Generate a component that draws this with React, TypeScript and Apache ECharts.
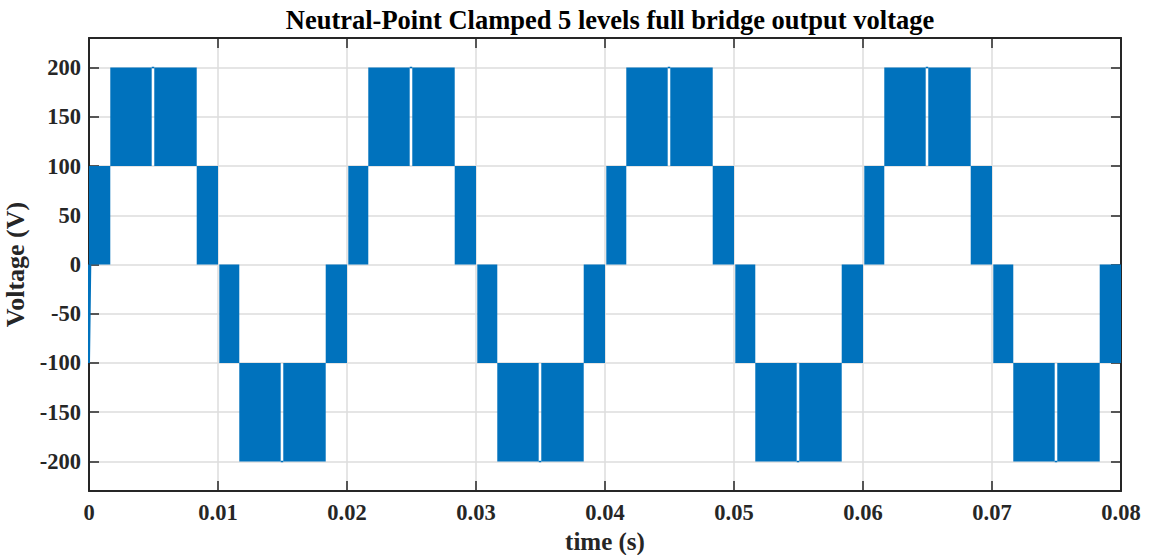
import React, { useEffect, useRef } from "react";
import * as echarts from "echarts";

// PWM switching bands: [start, end] in s, [low, high] in V
const bandStart = [
  0, 0.00165, 0.00506, 0.00835, 0.0101, 0.01165, 0.01506, 0.01835,
  0.0201, 0.02165, 0.02506, 0.02835, 0.0301, 0.03165, 0.03506, 0.03835,
  0.0401, 0.04165, 0.04506, 0.04835, 0.0501, 0.05165, 0.05506, 0.05835,
  0.0601, 0.06165, 0.06506, 0.06835, 0.0701, 0.07165, 0.07506, 0.07835,
];
const bandEnd = [
  0.00165, 0.00486, 0.00835, 0.01, 0.01165, 0.01486, 0.01835, 0.02,
  0.02165, 0.02486, 0.02835, 0.03, 0.03165, 0.03486, 0.03835, 0.04,
  0.04165, 0.04486, 0.04835, 0.05, 0.05165, 0.05486, 0.05835, 0.06,
  0.06165, 0.06486, 0.06835, 0.07, 0.07165, 0.07486, 0.07835, 0.08,
];
const bandLow = [
  0, 100, 100, 0, -100, -200, -200, -100,
  0, 100, 100, 0, -100, -200, -200, -100,
  0, 100, 100, 0, -100, -200, -200, -100,
  0, 100, 100, 0, -100, -200, -200, -100,
];
const bandHigh = [
  100, 200, 200, 100, 0, -100, -100, 0,
  100, 200, 200, 100, 0, -100, -100, 0,
  100, 200, 200, 100, 0, -100, -100, 0,
  100, 200, 200, 100, 0, -100, -100, 0,
];

// flat (non-switching) stretches at the peaks
const flatStart = [0.00486, 0.01486, 0.02486, 0.03486, 0.04486, 0.05486, 0.06486, 0.07486];
const flatEnd = [0.00506, 0.01506, 0.02506, 0.03506, 0.04506, 0.05506, 0.06506, 0.07506];
const flatLevel = [200, -200, 200, -200, 200, -200, 200, -200];

// initial transient at t = 0
const spikeTime = [0, 0, 0.0001];
const spikeValue = [0, -100, 0];

const yTicks = [-200, -150, -100, -50, 0, 50, 100, 150, 200];

const BLUE = "#0072BD";
const AX = "#262626";
const FONT = "'Liberation Serif', 'Times New Roman', serif";

export default function App() {
  const ref = useRef<HTMLDivElement>(null);

  useEffect(() => {
    if (!ref.current) return;
    const chart = echarts.init(ref.current, null, { renderer: "svg" });

    const bands = bandStart.map((s, i) => [s, bandEnd[i], bandLow[i], bandHigh[i]]);

    const flatSeries = flatStart.map((s, i) => ({
      type: "line",
      data: [
        [s, flatLevel[i]],
        [flatEnd[i], flatLevel[i]],
      ],
      showSymbol: false,
      symbol: "none",
      lineStyle: { color: BLUE, width: 1.5 },
      silent: true,
      z: 3,
    }));

    const tickLabel = {
      color: AX,
      fontFamily: FONT,
      fontWeight: "bold" as const,
      fontSize: 22.5,
    };

    chart.setOption({
      animation: false,
      backgroundColor: "#ffffff",
      title: {
        text: "Neutral-Point Clamped 5 levels full bridge output voltage",
        left: 605,
        textAlign: "center",
        top: 1,
        textStyle: { color: "#000", fontFamily: FONT, fontWeight: "bold", fontSize: 26.5 },
      },
      grid: {
        left: 89,
        right: 33,
        top: 38,
        bottom: 64,
        containLabel: false,
        outerBoundsMode: "none",
      },
      xAxis: [
        {
          type: "value",
          min: 0,
          max: 0.08,
          interval: 0.01,
          position: "bottom",
          name: "time (s)",
          nameLocation: "middle",
          nameGap: 32,
          nameTextStyle: {
            color: AX,
            fontFamily: FONT,
            fontWeight: "bold",
            fontSize: 25,
            lineHeight: 24,
          },
          axisLine: { show: true, onZero: false, lineStyle: { color: AX, width: 2 } },
          axisTick: { show: true, inside: true, length: 10, lineStyle: { color: AX, width: 1.5 } },
          axisLabel: {
            ...tickLabel,
            margin: 10,
            formatter: (v: number) => (v === 0 ? "0" : v.toFixed(2)),
          },
          splitLine: { show: true, lineStyle: { color: "#dcdcdc", width: 1.5 } },
        },
        {
          type: "value",
          min: 0,
          max: 0.08,
          interval: 0.01,
          position: "top",
          axisLine: { show: true, onZero: false, lineStyle: { color: AX, width: 2 } },
          axisTick: { show: true, inside: true, length: 10, lineStyle: { color: AX, width: 1.5 } },
          axisLabel: { show: false },
          splitLine: { show: false },
        },
      ],
      yAxis: [
        {
          type: "value",
          min: -230,
          max: 230,
          position: "left",
          name: "Voltage (V)",
          nameLocation: "middle",
          nameGap: 50,
          nameRotate: 90,
          nameTextStyle: { color: AX, fontFamily: FONT, fontWeight: "bold", fontSize: 26 },
          axisLine: { show: true, onZero: false, lineStyle: { color: AX, width: 2 } },
          axisTick: {
            show: true,
            inside: true,
            length: 10,
            customValues: yTicks,
            lineStyle: { color: AX, width: 1.5 },
          },
          axisLabel: {
            ...tickLabel,
            margin: 8,
            customValues: yTicks,
            formatter: (v: number) => String(v),
          },
          splitLine: { show: true, lineStyle: { color: "#dcdcdc", width: 1.5 } },
        },
        {
          type: "value",
          min: -230,
          max: 230,
          position: "right",
          axisLine: { show: true, onZero: false, lineStyle: { color: AX, width: 2 } },
          axisTick: {
            show: true,
            inside: true,
            length: 10,
            customValues: yTicks,
            lineStyle: { color: AX, width: 1.5 },
          },
          axisLabel: { show: false },
          splitLine: { show: false },
        },
      ],
      series: [
        {
          type: "custom",
          xAxisIndex: 0,
          yAxisIndex: 0,
          data: bands,
          encode: { x: [0, 1], y: [2, 3] },
          z: 2,
          silent: true,
          renderItem: (params: any, api: any) => {
            const p0 = api.coord([api.value(0), api.value(3)]);
            const p1 = api.coord([api.value(1), api.value(2)]);
            return {
              type: "rect",
              shape: { x: p0[0], y: p0[1], width: p1[0] - p0[0], height: p1[1] - p0[1] },
              style: { fill: BLUE },
            };
          },
        },
        ...flatSeries,
        {
          type: "line",
          data: spikeTime.map((t, i) => [t, spikeValue[i]]),
          showSymbol: false,
          symbol: "none",
          lineStyle: { color: BLUE, width: 2 },
          silent: true,
          z: 4,
        },
      ],
    });

    return () => chart.dispose();
  }, []);

  return (
    <div
      ref={ref}
      style={{ position: "fixed", left: 0, top: 0, width: 1154, height: 555 }}
    />
  );
}
